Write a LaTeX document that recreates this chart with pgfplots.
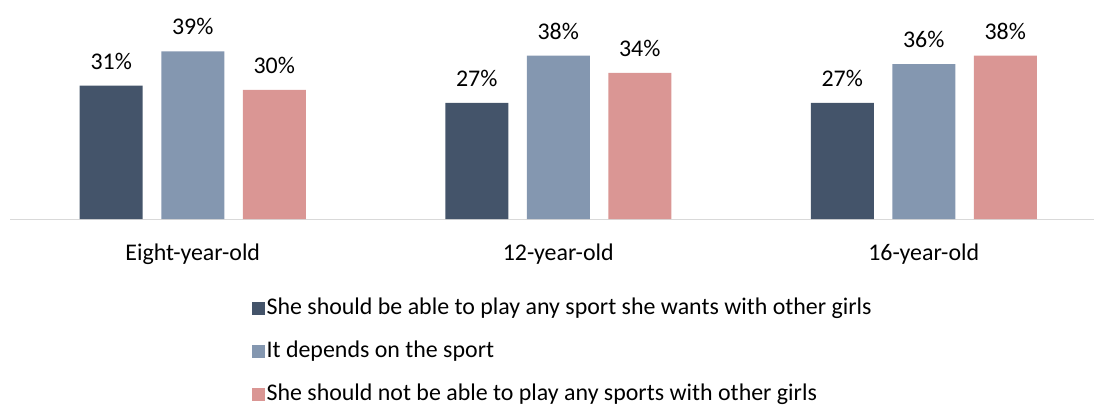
\documentclass[border=0pt]{standalone}
\usepackage{fontspec}
\setmainfont{Carlito}
\usepackage{pgfplots}
\pgfplotsset{compat=1.18}
\definecolor{cA}{HTML}{44546A}
\definecolor{cB}{HTML}{8497B0}
\definecolor{cC}{HTML}{DA9694}
\definecolor{axg}{HTML}{D9D9D9}
\begin{document}
\fontsize{24}{29}\selectfont
\begin{tikzpicture}
\path[use as bounding box] (0,0) rectangle (1094bp,407bp);
\begin{axis}[
  at={(10bp,188bp)}, anchor=south west,
  scale only axis, width=1083.7bp, height=193.5bp,
  xmin=-0.5, xmax=2.465, ymin=0, ymax=45,
  ybar=18.5bp, bar width=63bp,
  axis x line*=bottom, axis y line=none,
  x axis line style={axg, line width=1pt, -},
  xtick=data, xticklabels={Eight-year-old,12-year-old,16-year-old},
  major tick length=0pt,
  xticklabel style={font=\fontsize{24}{29}\selectfont, yshift=-17bp},
  /pgf/number format/assume math mode=true,
  nodes near coords={\pgfmathprintnumber\pgfplotspointmeta\%},
  every node near coord/.append style={font=\fontsize{24}{29}\selectfont, black, yshift=8bp},
  clip=false,
  legend style={at={(0.2200,-0.385)}, anchor=north west, draw=none, fill=none,
    font=\fontsize{24}{29}\selectfont, row sep=16.9bp, legend cell align=left,
    nodes={text height=17bp, text depth=5bp},
    /tikz/every even column/.append style={column sep=0bp}},
  legend image code/.code={\fill[#1] (0bp,-6.5bp) rectangle (13bp,6.5bp);},
]
\addplot[fill=cA, draw=none] coordinates {(0,31) (1,27) (2,27)};
\addplot[fill=cB, draw=none] coordinates {(0,39) (1,38) (2,36)};
\addplot[fill=cC, draw=none] coordinates {(0,30) (1,34) (2,38)};
\legend{She should be able to play any sport she wants with other girls, It depends on the sport, She should not be able to play any sports with other girls}
\end{axis}
\end{tikzpicture}
\end{document}
